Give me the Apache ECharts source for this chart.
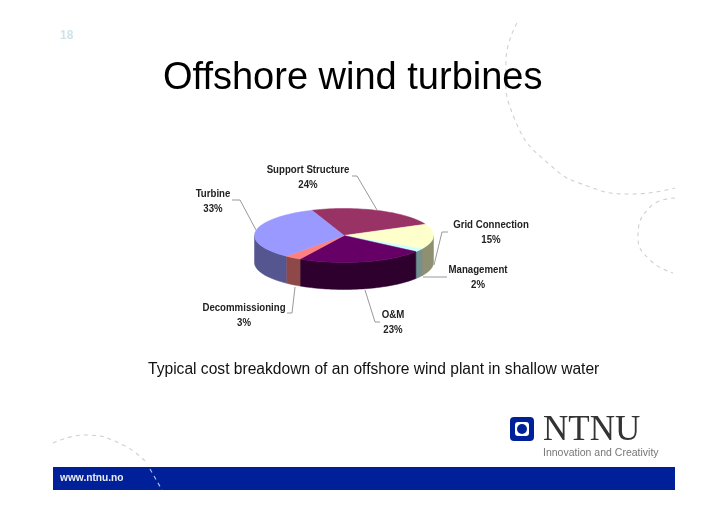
<!DOCTYPE html>
<html><head><meta charset="utf-8">
<style>html,body{margin:0;padding:0;background:#fff}#c{width:728px;height:514px}</style>
<script src="https://cdn.jsdelivr.net/npm/echarts@6/dist/echarts.min.js"></script>
</head><body><div id="c"></div>
<script>
const categories = ['Support Structure','Grid Connection','Management','O&M','Decommissioning','Turbine'];
const values = [24,15,2,23,3,33];
const topColors = ['#993366','#FFFFCC','#CCFFFF','#660066','#FF8080','#9999FF'];
const sideColors = ['#5c1f3d','#8f8f72','#72908f','#2e002e','#8f4848','#55558f'];
const labelCenters = [[308,169],[491,224],[478,269],[393,314],[244,307],[213,193]];
const leaders = [
  [[352,176],[357,176],[377,210]],
  [[448,232],[442,232],[434,265]],
  [[447,277],[423,277]],
  [[365,290],[375,322],[380,322]],
  [[295,287],[292,313],[287,313]],
  [[232,200],[240,200],[256,230]]
];
const pieGeom = {cx:344,cy:235.5,rx:89.5,ry:27,depth:27,startDeg:-21};
const total = values.reduce((a,b)=>a+b,0);
const pt = (deg,dy)=>{const r=deg*Math.PI/180;return [pieGeom.cx+pieGeom.rx*Math.sin(r),pieGeom.cy-pieGeom.ry*Math.cos(r)+(dy||0)];};
function arc(a,b,dy){const p=[];const n=Math.max(2,Math.ceil(Math.abs(b-a)/2));for(let i=0;i<=n;i++)p.push(pt(a+(b-a)*i/n,dy));return p;}
function renderSlice(params,api){
  const i=params.dataIndex, val=api.value(0);
  let before=0; for(let k=0;k<i;k++) before+=values[k];
  const a=pieGeom.startDeg+before/total*360, b=a+val/total*360;
  const children=[];
  const wa=Math.max(a,90), wb=Math.min(b,270);
  if(wb>wa){
    const pts=arc(wa,wb,0).concat(arc(wa,wb,pieGeom.depth).reverse());
    children.push({type:'polygon',shape:{points:pts},style:{fill:sideColors[i],stroke:sideColors[i],lineWidth:0.5}});
  }
  const face=[[pieGeom.cx,pieGeom.cy]].concat(arc(a,b,0));
  children.push({type:'polygon',shape:{points:face},style:{fill:topColors[i],stroke:topColors[i],lineWidth:0.5},z2:5});
  children.push({type:'polyline',shape:{points:leaders[i]},style:{stroke:'#999',lineWidth:1,fill:null},z2:6});
  const c=labelCenters[i];
  children.push({type:'text',x:c[0],y:c[1]-7,scaleX:0.84,z2:7,style:{text:categories[i]+'\n'+val+'%',fill:'#222',font:'bold 11.5px "Liberation Sans"',align:'center',verticalAlign:'top',lineHeight:15.5}});
  return {type:'group',children};
}
const dash={stroke:'#d0d0d0',lineWidth:1.1,lineDash:[4,4],fill:null};
const chart=echarts.init(document.getElementById('c'),null,{renderer:'canvas'});
chart.setOption({
  animation:false,backgroundColor:'#fff',
  series:[{type:'custom',coordinateSystem:'none',renderItem:renderSlice,silent:true,
    data:values.map((v,i)=>({name:categories[i],value:[v]}))}],
  graphic:[
    {type:'polyline',z:0,shape:{smooth:0.5,points:[[517,23],[506,60],[515,120],[550,165],[590,187],[630,194],[675,188]]},style:dash},
    {type:'polyline',z:0,shape:{smooth:0.5,points:[[675,198],[650,207],[638,237],[650,260],[673,273]]},style:dash},
    {type:'polyline',z:0,shape:{smooth:0.5,points:[[53,443],[87,435],[123,445],[147,463]]},style:dash},
    {type:'text',x:60,y:30,style:{text:'18',fill:'#cfe3ea',font:'bold 12px "Liberation Sans"'}},
    {type:'text',x:163,y:60,style:{text:'Offshore wind turbines',fill:'#000',font:'38px "Liberation Sans"'}},
    {type:'text',x:148,y:362,style:{text:'Typical cost breakdown of an offshore wind plant in shallow water',fill:'#111',font:'15.6px "Liberation Sans"'}},
    {type:'rect',shape:{x:510,y:417,width:24,height:24,r:4},style:{fill:'#00209a'}},
    {type:'rect',shape:{x:515,y:422,width:14,height:14,r:3},style:{fill:'#fff'}},
    {type:'circle',shape:{cx:522,cy:429,r:5},style:{fill:'#00209a'}},
    {type:'text',x:543,y:413,style:{text:'NTNU',fill:'#333',font:'35px "Liberation Serif"'}},
    {type:'text',x:543,y:448,style:{text:'Innovation and Creativity',fill:'#777',font:'10.5px "Liberation Sans"'}},
    {type:'rect',shape:{x:53,y:467,width:622,height:23},style:{fill:'#00209a'}},
    {type:'text',x:60,y:473,style:{text:'www.ntnu.no',fill:'#e8ecf5',font:'bold 10.2px "Liberation Sans"'}},
    {type:'polyline',shape:{points:[[150,469],[162,490]]},style:{stroke:'#b8c4e6',lineWidth:1.1,lineDash:[4,4],fill:null}}
  ]
});
</script></body></html>
